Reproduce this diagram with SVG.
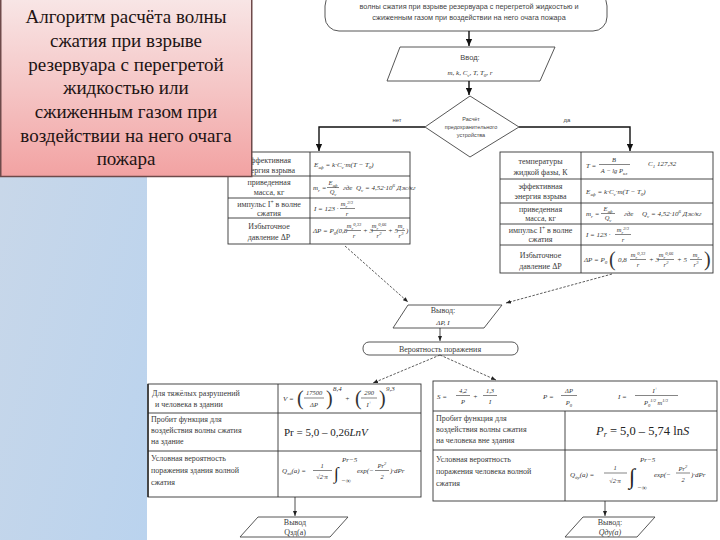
<svg xmlns="http://www.w3.org/2000/svg" width="720" height="540" viewBox="0 0 720 540">
<defs>
<linearGradient id="gBlue" x1="0" y1="0" x2="1" y2="1">
<stop offset="0" stop-color="#cbd8e8"/><stop offset="1" stop-color="#bad3ee"/>
</linearGradient>
<linearGradient id="gPink" x1="0" y1="0" x2="0" y2="1">
<stop offset="0" stop-color="#f8e6e6"/><stop offset="0.5" stop-color="#f5c6c6"/><stop offset="1" stop-color="#f2a2a2"/>
</linearGradient>
<marker id="ah" viewBox="0 0 10 10" refX="10" refY="5" markerWidth="7" markerHeight="7" markerUnits="userSpaceOnUse" orient="auto"><path d="M0,0.5 L10,5 L0,9.5 z" fill="#111"/></marker>
<marker id="ahs" viewBox="0 0 10 10" refX="10" refY="5" markerWidth="5" markerHeight="5" markerUnits="userSpaceOnUse" orient="auto"><path d="M0,1 L10,5 L0,9 z" fill="#222"/></marker>
<style>
.lbl{font-family:'Liberation Serif','Times New Roman','DejaVu Serif',serif;font-size:8px;fill:#3a3a3a;text-anchor:middle}
.lbs{font-family:'Liberation Serif','Times New Roman','DejaVu Serif',serif;font-size:8px;fill:#3a3a3a}
.f{font-family:'Liberation Serif','Times New Roman','DejaVu Serif',serif;font-style:italic;font-size:7px;fill:#333}
.fc{font-family:'Liberation Serif','Times New Roman','DejaVu Serif',serif;font-style:italic;font-size:6.5px;fill:#333;text-anchor:middle}
.s{font-size:70%}
.tb{fill:none;stroke:#333;stroke-width:0.9}
.fl{stroke:#333;stroke-width:0.6}
.sh{fill:#fff;stroke:#444;stroke-width:0.9}
.sa{font-family:'Liberation Sans',sans-serif;fill:#444;text-anchor:middle}
.c{fill:none;stroke:#111;stroke-width:1.4}
.ct{fill:none;stroke:#222;stroke-width:0.8}
.cd{fill:none;stroke:#333;stroke-width:0.8;stroke-dasharray:2.5 1.5}
.tt{font-family:'Liberation Serif','Times New Roman','DejaVu Serif',serif;font-size:19px;fill:#1e1414;text-anchor:middle}
.par{font-family:'Liberation Serif','Times New Roman','DejaVu Serif',serif;font-size:20px;fill:#333}
.big{font-family:'Liberation Serif','Times New Roman','DejaVu Serif',serif;fill:#222}
</style>
</defs>
<rect x="0" y="0" width="720" height="540" fill="#fff"/>
<rect x="0" y="0" width="147" height="540" fill="url(#gBlue)"/>

<g id="start">
<rect x="325" y="-8" width="282" height="39" rx="14" class="sh" stroke="#777"/>
<text class="sa" x="469" y="8.5" font-size="7.3">волны сжатия при взрыве резервуара с перегретой жидкостью и</text>
<text class="sa" x="469" y="20" font-size="7.3">сжиженным газом при воздействии на него очага пожара</text>
</g>

<g id="input">
<polygon points="400,47 555,47 540,81 387,81" class="sh"/>
<text class="sa" x="470" y="60" font-size="7.5">Ввод:</text>
<text class="f" x="470" y="75" text-anchor="middle" font-size="6.5">m, k, C<tspan class="s" dy="1.5">v</tspan><tspan dy="-1.5">,  T,  T</tspan><tspan class="s" dy="1.5">0</tspan><tspan dy="-1.5">, r</tspan></text>
</g>

<g id="decision">
<polygon points="470,96 519,127 470,157 425,127" class="sh"/>
<text class="sa" x="471" y="121" font-size="5.5">Расчёт</text>
<text class="sa" x="471" y="129" font-size="5.5">предохранительного</text>
<text class="sa" x="471" y="137" font-size="5.5">устройства</text>
</g>

<g id="tableLeft">
<rect x="228" y="152" width="182" height="92" class="tb"/>
<path d="M310,152V244M228,176H410M228,198H410M228,218H410" class="tb"/>
<text class="lbl" x="269" y="163">эффективная</text>
<text class="lbl" x="269" y="173">энергия взрыва</text>
<text class="lbl" x="269" y="185">приведенная</text>
<text class="lbl" x="269" y="195">масса, кг</text>
<text class="lbl" x="269" y="207">импульс I<tspan class="s" dy="-3">+</tspan><tspan dy="3"> в волне</tspan></text>
<text class="lbl" x="269" y="216">сжатия</text>
<text class="lbl" x="269" y="229">Избыточное</text>
<text class="lbl" x="269" y="240">давление ΔP</text>
<text class="f" x="314" y="167">E<tspan class="s" dy="1.5">эф</tspan><tspan dy="-1.5"> = k·C</tspan><tspan class="s" dy="1.5">v</tspan><tspan dy="-1.5">·m(T − T</tspan><tspan class="s" dy="1.5">0</tspan><tspan dy="-1.5">)</tspan></text>
<text class="f" x="313" y="190" font-size="6.5">m<tspan class="s" dy="1.5">r</tspan><tspan dy="-1.5"> =</tspan></text>
<text class="fc" x="333" y="185">E<tspan class="s" dy="1.5">эф</tspan></text>
<line x1="327" y1="187.5" x2="339" y2="187.5" class="fl"/>
<text class="fc" x="333" y="194">Q<tspan class="s" dy="1.5">v</tspan></text>
<text class="f" x="343" y="190" font-size="6.5">где</text>
<text class="f" x="356" y="190" font-size="6.5">Q<tspan class="s" dy="1.5">v</tspan><tspan dy="-1.5"> = 4,52·10</tspan><tspan class="s" dy="-3">6</tspan><tspan dy="3"> Дж/кг</tspan></text>
<text class="f" x="314" y="211" font-size="6.5">I = 123 ·</text>
<text class="fc" x="347" y="206">m<tspan class="s" dy="1.5">r</tspan><tspan class="s" dy="-4">2/3</tspan></text>
<line x1="340" y1="208.5" x2="355" y2="208.5" class="fl"/>
<text class="fc" x="347" y="216">r</text>
<text class="f" x="313" y="233" font-size="6.5">ΔP = P<tspan class="s" dy="1.5">0</tspan><tspan dy="-1.5">(0,8</tspan></text>
<text class="fc" x="354" y="228">m<tspan class="s" dy="1.5">r</tspan><tspan class="s" dy="-4">0,33</tspan></text>
<line x1="347" y1="230.5" x2="361" y2="230.5" class="fl"/>
<text class="fc" x="354" y="238">r</text>
<text class="f" x="363" y="233" font-size="6.5">+ 3</text>
<text class="fc" x="379" y="228">m<tspan class="s" dy="1.5">r</tspan><tspan class="s" dy="-4">0,66</tspan></text>
<line x1="372" y1="230.5" x2="386" y2="230.5" class="fl"/>
<text class="fc" x="379" y="238">r<tspan class="s" dy="-3">2</tspan></text>
<text class="f" x="388" y="233" font-size="6.5">+ 5</text>
<text class="fc" x="401" y="228">m<tspan class="s" dy="1.5">r</tspan></text>
<line x1="397" y1="230.5" x2="405" y2="230.5" class="fl"/>
<text class="fc" x="401" y="238">r<tspan class="s" dy="-3">3</tspan></text>
<text class="f" x="406" y="233" font-size="6.5">)</text>
</g>

<g id="tableRight">
<rect x="500" y="152" width="213" height="121" class="tb"/>
<path d="M581,152V273M500,179H713M500,203H713M500,224H713M500,245H713" class="tb"/>
<text class="lbl" x="540.5" y="164">температуры</text>
<text class="lbl" x="540.5" y="175">жидкой фазы, К</text>
<text class="lbl" x="540.5" y="189">эффективная</text>
<text class="lbl" x="540.5" y="199">энергия взрыва</text>
<text class="lbl" x="540.5" y="212">приведенная</text>
<text class="lbl" x="540.5" y="221">масса, кг</text>
<text class="lbl" x="540.5" y="233">импульс I<tspan class="s" dy="-3">+</tspan><tspan dy="3"> в волне</tspan></text>
<text class="lbl" x="540.5" y="242">сжатия</text>
<text class="lbl" x="540.5" y="258" font-size="9">Избыточное</text>
<text class="lbl" x="540.5" y="269" font-size="9">давление ΔP</text>
<text class="f" x="586" y="168">T =</text>
<text class="fc" x="614" y="162">B</text>
<line x1="599" y1="164.5" x2="630" y2="164.5" class="fl"/>
<text class="fc" x="614" y="173">A − lg P<tspan class="s" dy="1.5">кл</tspan></text>
<text class="f" x="648" y="166">C<tspan class="s" dy="1.5">1</tspan><tspan dy="-1.5">  127,32</tspan></text>
<text class="f" x="586" y="194">E<tspan class="s" dy="1.5">эф</tspan><tspan dy="-1.5"> = k·C</tspan><tspan class="s" dy="1.5">v</tspan><tspan dy="-1.5">·m(T − T</tspan><tspan class="s" dy="1.5">0</tspan><tspan dy="-1.5">)</tspan></text>
<text class="f" x="586" y="216">m<tspan class="s" dy="1.5">r</tspan><tspan dy="-1.5"> =</tspan></text>
<text class="fc" x="608" y="211">E<tspan class="s" dy="1.5">эф</tspan></text>
<line x1="601" y1="213.5" x2="615" y2="213.5" class="fl"/>
<text class="fc" x="608" y="220">Q<tspan class="s" dy="1.5">v</tspan></text>
<text class="f" x="624" y="216" font-size="6.5">где</text>
<text class="f" x="642" y="216" font-size="6.5">Q<tspan class="s" dy="1.5">v</tspan><tspan dy="-1.5"> = 4,52·10</tspan><tspan class="s" dy="-3">6</tspan><tspan dy="3"> Дж/кг</tspan></text>
<text class="f" x="586" y="237">I = 123 ·</text>
<text class="fc" x="623" y="232">m<tspan class="s" dy="1.5">r</tspan><tspan class="s" dy="-4">2/3</tspan></text>
<line x1="615" y1="234.5" x2="631" y2="234.5" class="fl"/>
<text class="fc" x="623" y="242">r</text>
<text class="f" x="584" y="262">ΔP = P<tspan class="s" dy="1.5">0</tspan></text>
<text class="par" x="609" y="266" font-size="18">(</text>
<text class="f" x="618" y="262" font-size="6.5">0,8</text>
<text class="fc" x="638" y="257">m<tspan class="s" dy="1.5">r</tspan><tspan class="s" dy="-4">0,33</tspan></text>
<line x1="630" y1="259.5" x2="646" y2="259.5" class="fl"/>
<text class="fc" x="638" y="267">r</text>
<text class="f" x="649" y="262" font-size="6.5">+ 3</text>
<text class="fc" x="666" y="257">m<tspan class="s" dy="1.5">r</tspan><tspan class="s" dy="-4">0,66</tspan></text>
<line x1="658" y1="259.5" x2="674" y2="259.5" class="fl"/>
<text class="fc" x="666" y="267">r<tspan class="s" dy="-3">2</tspan></text>
<text class="f" x="677" y="262" font-size="6.5">+ 5</text>
<text class="fc" x="696" y="257">m<tspan class="s" dy="1.5">r</tspan></text>
<line x1="690" y1="259.5" x2="702" y2="259.5" class="fl"/>
<text class="fc" x="696" y="267">r<tspan class="s" dy="-3">3</tspan></text>
<text class="par" x="704" y="266" font-size="18">)</text>
</g>

<g id="output">
<polygon points="408,305 502,305 484,328 393,328" class="sh"/>
<text class="lbl" x="443" y="313" font-size="7.5">Вывод:</text>
<text class="f" x="443" y="325" text-anchor="middle">ΔP, I</text>
</g>

<g id="probability">
<rect x="363" y="342" width="155" height="13" rx="6" class="sh" stroke="#666" stroke-width="0.7"/>
<text class="lbl" x="440" y="351.5" font-size="8">Вероятность поражения</text>
</g>

<g id="tableBottomLeft">
<rect x="148" y="384" width="273" height="113" class="tb"/>
<path d="M278,384V497M148,413H421M148,451H421" class="tb"/>
<path d="M148,384V497" stroke="#222" stroke-width="1.4"/>
<text class="lbs" x="152" y="396">Для тяжёлых разрушений</text>
<text class="lbs" x="155" y="407">и человека в здании</text>
<text class="lbs" x="151" y="422">Пробит функция для</text>
<text class="lbs" x="151" y="433">воздействия волны сжатия</text>
<text class="lbs" x="151" y="444">на здание</text>
<text class="lbs" x="151" y="461">Условная вероятность</text>
<text class="lbs" x="151" y="473">поражения здания волной</text>
<text class="lbs" x="151" y="485">сжатия</text>
<text class="f" x="283" y="401" font-size="8">V =</text>
<text class="par" x="297" y="405">(</text>
<text class="fc" x="314" y="395" font-size="7.5">17500</text>
<line x1="304" y1="398" x2="324" y2="398" class="fl"/>
<text class="fc" x="314" y="407" font-size="7.5">ΔP</text>
<text class="par" x="326" y="405">)</text>
<text class="f" x="333" y="391" font-size="5.5">8,4</text>
<text class="f" x="345" y="401" font-size="8">+</text>
<text class="par" x="355" y="405">(</text>
<text class="fc" x="369" y="395" font-size="7.5">290</text>
<line x1="361" y1="398" x2="377" y2="398" class="fl"/>
<text class="fc" x="369" y="407" font-size="7.5">I<tspan class="s" dy="-3">+</tspan></text>
<text class="par" x="379" y="405">)</text>
<text class="f" x="386" y="391" font-size="5.5">9,3</text>
<text class="big" x="284" y="436" font-size="11">Pr = 5,0 – 0,26<tspan font-style="italic">LnV</tspan></text>
<text class="f" x="282" y="473">Q<tspan class="s" dy="1.5">зд</tspan><tspan dy="-1.5">(a) =</tspan></text>
<text class="fc" x="322" y="468">1</text>
<line x1="313" y1="470.5" x2="332" y2="470.5" class="fl"/>
<text class="fc" x="322" y="479">√2·π</text>
<text class="big" x="334" y="479" font-size="17" fill="#333">∫</text>
<text class="f" x="342" y="462" font-size="4.5">Pr−5</text>
<text class="f" x="341" y="483" font-size="4.5">−∞</text>
<text class="f" x="357" y="473" font-size="6.5">exp(−</text>
<text class="fc" x="382" y="468">Pr<tspan class="s" dy="-3">2</tspan></text>
<line x1="375" y1="470.5" x2="389" y2="470.5" class="fl"/>
<text class="fc" x="382" y="479">2</text>
<text class="f" x="390" y="473" font-size="6.5">)·dPr</text>
</g>

<g id="tableBottomRight">
<rect x="433" y="381" width="284" height="120" class="tb"/>
<path d="M565,411V501M433,411H717M433,450H717" class="tb"/>
<text class="f" x="437" y="399" font-size="9">S =</text>
<text class="fc" x="463" y="393" font-size="8.5">4,2</text>
<line x1="456" y1="395.5" x2="470" y2="395.5" class="fl"/>
<text class="fc" x="463" y="404" font-size="8.5">P</text>
<text class="f" x="473" y="399" font-size="9">+</text>
<text class="fc" x="490" y="393" font-size="8.5">1,3</text>
<line x1="483" y1="395.5" x2="497" y2="395.5" class="fl"/>
<text class="fc" x="490" y="404" font-size="8.5">I</text>
<text class="f" x="543" y="399" font-size="9">P =</text>
<text class="fc" x="569" y="393" font-size="8">ΔP</text>
<line x1="561" y1="395.5" x2="577" y2="395.5" class="fl"/>
<text class="fc" x="569" y="405" font-size="8">P<tspan class="s" dy="1.5">0</tspan></text>
<text class="f" x="618" y="399" font-size="9">I =</text>
<text class="fc" x="655" y="393" font-size="8">I<tspan class="s" dy="-3">+</tspan></text>
<line x1="635" y1="395.5" x2="678" y2="395.5" class="fl"/>
<text class="fc" x="656" y="405" font-size="7.5">P<tspan class="s" dy="1.5">0</tspan><tspan class="s" dy="-5">1/2</tspan><tspan dy="3.5"> m</tspan><tspan class="s" dy="-3">1/3</tspan></text>
<text class="lbs" x="436" y="421">Пробит функция для</text>
<text class="lbs" x="436" y="432">воздействия волны сжатия</text>
<text class="lbs" x="436" y="443">на человека вне здания</text>
<text class="lbs" x="436" y="462">Условная вероятность</text>
<text class="lbs" x="436" y="474">поражения человека волной</text>
<text class="lbs" x="436" y="486">сжатия</text>
<text class="big" x="596" y="435" font-size="12.5"><tspan font-style="italic">P</tspan><tspan font-size="8" dy="2" font-style="italic">r</tspan><tspan dy="-2"> = 5,0 – 5,74 ln</tspan><tspan font-style="italic">S</tspan></text>
<text class="f" x="570" y="477" font-size="9">Q<tspan class="s" dy="2">ду</tspan><tspan dy="-2">(a) =</tspan></text>
<text class="fc" x="615" y="470" font-size="8.5">1</text>
<line x1="604" y1="473" x2="627" y2="473" class="fl"/>
<text class="fc" x="615" y="483" font-size="8.5">√2·π</text>
<text class="big" x="629" y="484" font-size="22" fill="#333">∫</text>
<text class="f" x="640" y="462" font-size="5">Pr−5</text>
<text class="f" x="637" y="490" font-size="5">−∞</text>
<text class="f" x="654" y="477" font-size="8">exp(−</text>
<text class="fc" x="683" y="471">Pr<tspan class="s" dy="-3">2</tspan></text>
<line x1="676" y1="473" x2="690" y2="473" class="fl"/>
<text class="fc" x="683" y="482">2</text>
<text class="f" x="691" y="477" font-size="8">)·dPr</text>
</g>

<g id="outputLeft">
<polygon points="258,517 348,517 330,537 240,537" class="sh" stroke-width="0.8"/>
<text class="lbl" x="295" y="525" font-size="7.5">Вывод</text>
<text class="lbl" x="295" y="535" font-size="7.5">Qзд(a)</text>
</g>

<g id="outputRight">
<polygon points="583,517 655,517 637,537 565,537" class="sh" stroke-width="0.8"/>
<text class="lbl" x="610" y="525" font-size="7.5">Вывод:</text>
<text class="lbl" x="610" y="535" font-size="7.5" font-style="italic">Qду(a)</text>
</g>

<g id="connectors">
<line x1="469" y1="31" x2="469" y2="46" class="c" marker-end="url(#ah)"/>
<line x1="469" y1="81" x2="469" y2="95" class="c" marker-end="url(#ah)"/>
<polyline points="425,127 319,127 319,151" class="c" stroke-width="1.1" marker-end="url(#ah)"/>
<polyline points="519,127 630,127 630,151" class="c" stroke-width="1.1" marker-end="url(#ah)"/>
<line x1="345" y1="246" x2="408" y2="302" class="cd" marker-end="url(#ahs)"/>
<line x1="612" y1="274" x2="506" y2="303" class="cd" marker-end="url(#ahs)"/>
<line x1="440" y1="328" x2="440" y2="341" class="ct" marker-end="url(#ahs)"/>
<line x1="440" y1="355" x2="373" y2="383" class="cd" marker-end="url(#ahs)"/>
<line x1="440" y1="355" x2="496" y2="380" class="cd" marker-end="url(#ahs)"/>
<line x1="295" y1="497" x2="295" y2="516" class="ct" marker-end="url(#ahs)"/>
<line x1="605" y1="501" x2="605" y2="516" class="ct" marker-end="url(#ahs)"/>
<text class="sa" x="397" y="122" font-size="6">нет</text>
<text class="sa" x="567" y="122" font-size="6">да</text>
</g>

<g id="title">
<rect x="0.75" y="-2" width="251" height="178.5" fill="url(#gPink)" stroke="#6e4a4a" stroke-width="1.5"/>
<text class="tt" x="126" y="23">Алгоритм расчёта волны</text>
<text class="tt" x="126" y="47">сжатия при взрыве</text>
<text class="tt" x="126" y="70.5">резервуара с перегретой</text>
<text class="tt" x="126" y="94">жидкостью или</text>
<text class="tt" x="126" y="118">сжиженным газом при</text>
<text class="tt" x="126" y="141.5">воздействии на него очага</text>
<text class="tt" x="126" y="165">пожара</text>
</g>
</svg>
